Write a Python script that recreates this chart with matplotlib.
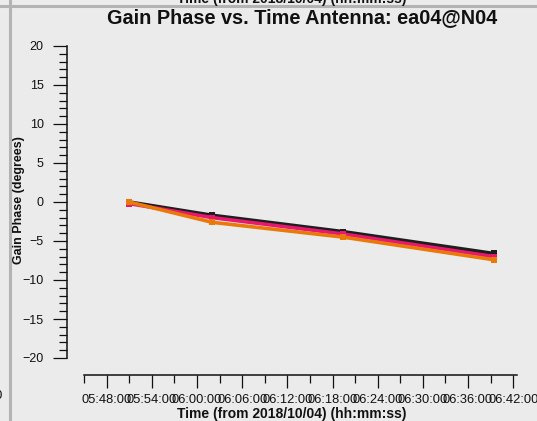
import matplotlib.pyplot as plt
from matplotlib.ticker import MultipleLocator, FixedLocator, FuncFormatter

# times in minutes of day (05:45:00 = 345)
times = [351.0, 362.0, 379.4, 399.4]
phase_black = [0.0, -1.7, -3.8, -6.6]
phase_pink = [-0.2, -2.0, -4.1, -7.0]
phase_orange = [0.0, -2.6, -4.5, -7.4]

major_times = [348 + 6 * k for k in range(10)]   # 05:48 ... 06:42
minor_times = [345 + 6 * k for k in range(10)]

bg = '#ebebeb'
ink = '#111111'
W, H = 537, 421

plt.rcParams['font.family'] = ['Liberation Sans', 'DejaVu Sans']

fig = plt.figure(figsize=(W / 100, H / 100), dpi=100, facecolor=bg)
ax = fig.add_axes([84 / W, 1 - 358 / H, 433 / W, 312 / H])
ax.set_facecolor(bg)

series = [
    (phase_black, '#1e1e1e'),
    (phase_pink, '#e8186e'),
    (phase_orange, '#e8790a'),
]
for vals, col in series:
    ax.plot(times, vals, color=col, linewidth=2.6, marker='s',
            markersize=5, markeredgewidth=0, solid_capstyle='butt')

ax.set_xlim(345, 402.5)
ax.set_ylim(-20, 20)

for s in ['top', 'right']:
    ax.spines[s].set_visible(False)
ax.spines['left'].set_position(('outward', 12))
ax.spines['bottom'].set_position(('outward', 12))
for s in ['left', 'bottom']:
    ax.spines[s].set_linewidth(1.1)
    ax.spines[s].set_color(ink)

ax.yaxis.set_major_locator(MultipleLocator(5))
ax.yaxis.set_minor_locator(MultipleLocator(1))
ax.xaxis.set_major_locator(FixedLocator(major_times))
ax.xaxis.set_minor_locator(FixedLocator(minor_times))
ax.xaxis.set_major_formatter(FuncFormatter(
    lambda m, p: f'{int(m // 60):02d}:{int(round(m % 60)):02d}:00'))

ax.tick_params(axis='y', which='major', direction='out', length=10, width=0.9,
               pad=7, labelsize=9, colors=ink)
ax.tick_params(axis='y', which='minor', direction='out', length=5.8, width=0.9,
               colors=ink)
ax.tick_params(axis='x', which='major', direction='out', length=9, width=0.9,
               pad=5, labelsize=9.3, colors=ink)
ax.tick_params(axis='x', which='minor', direction='out', length=5.8, width=0.9,
               colors=ink)

fig.text(302 / W, 1 - 18 / H, 'Gain Phase vs. Time Antenna: ea04@N04',
         fontsize=14.3, fontweight='bold', ha='center', va='center', color=ink)

fig.text(19 / W, 1 - 200 / H, 'Gain Phase (degrees)', rotation=90,
         fontsize=9, fontweight='bold', ha='center', va='center', color=ink)
fig.text(292 / W, 1 - 414 / H, 'Time (from 2018/10/04) (hh:mm:ss)',
         fontsize=10, fontweight='bold', ha='center', va='center', color=ink)

# remnants of the neighbouring panels in the screenshot
fig.text(292 / W, 1 + 1 / H, 'Time (from 2018/10/04) (hh:mm:ss)',
         fontsize=10, fontweight='bold', ha='center', va='center', color=ink)
fig.text(3 / W, 1 - 396 / H, '06:42:00', fontsize=9.3, ha='right',
         va='center', color=ink)
fig.add_artist(plt.Line2D([0, 1], [1 - 6 / H, 1 - 6 / H], transform=fig.transFigure,
                          color='#b3b3b3', linewidth=2.2))
fig.add_artist(plt.Line2D([10.3 / W, 10.3 / W], [0, 1], transform=fig.transFigure,
                          color='#b3b3b3', linewidth=2.2))

fig.savefig('out.png', dpi=100, facecolor=bg)
